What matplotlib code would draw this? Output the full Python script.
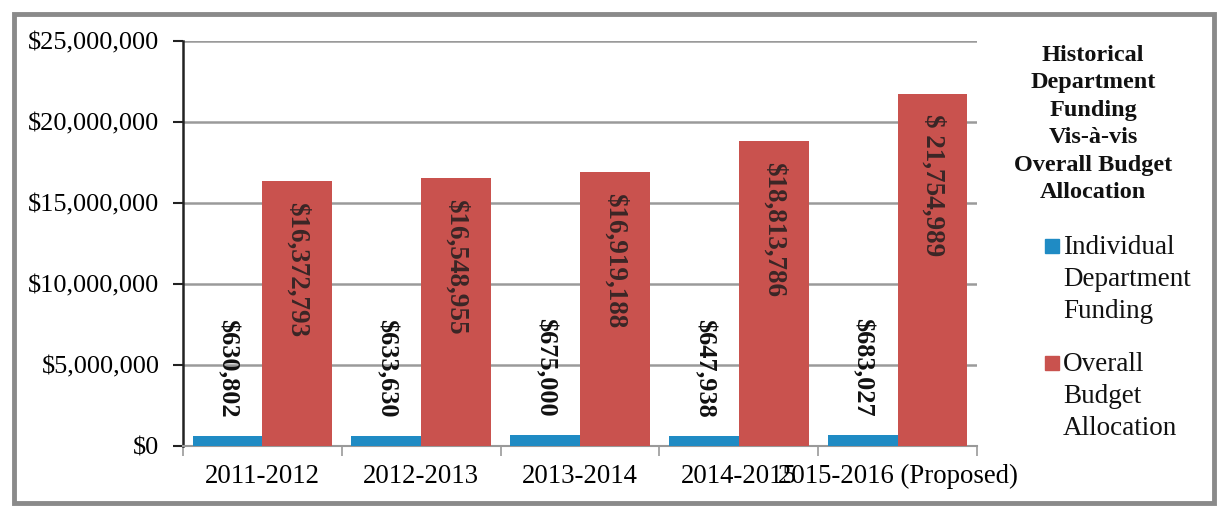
import matplotlib.pyplot as plt
from matplotlib.patches import Rectangle
from matplotlib.ticker import FuncFormatter
import numpy as np

# Funding per fiscal year
years = ["2011-2012", "2012-2013", "2013-2014", "2014-2015", "2015-2016 (Proposed)"]
dept_funding = [630802, 633630, 675000, 647938, 683027]
overall_budget = [16372793, 16548955, 16919188, 18813786, 21754989]
overall_labels = ["$16,372,793", "$16,548,955", "$16,919,188", "$18,813,786", "$ 21,754,989"]

blue = "#1f8bc4"
red = "#c9524e"

plt.rcParams['font.family'] = ['Liberation Serif', 'DejaVu Serif']

fig = plt.figure(figsize=(12.2, 5.08), dpi=100)
ax = fig.add_axes([183 / 1220, 1 - 446 / 508, 794 / 1220, 405 / 508])

x = np.arange(len(years))
w = 0.44
ax.bar(x - w / 2, dept_funding, w, color=blue, zorder=3)
ax.bar(x + w / 2, overall_budget, w, color=red, zorder=3)

# value labels, rotated to read top-down
for xi, v in zip(x, dept_funding):
    ax.annotate(f"${v:,}", (xi - w / 2, v), xytext=(0, 13), textcoords='offset points',
                rotation=-90, ha='center', va='bottom', fontsize=19, fontweight='bold',
                color='#111111', zorder=4)
for xi, v, lab in zip(x, overall_budget, overall_labels):
    ax.annotate(lab, (xi + w / 2, v), xytext=(0, -15), textcoords='offset points',
                rotation=-90, ha='center', va='top', fontsize=19.5, fontweight='bold',
                color='#3a2626', zorder=4)

ax.set_xlim(-0.5, len(years) - 0.5)
ax.set_ylim(0, 25000000)
ax.set_yticks(np.arange(0, 25000001, 5000000))
ax.yaxis.set_major_formatter(FuncFormatter(lambda v, p: f"${v:,.0f}"))
ax.set_xticks(x)
ax.set_xticklabels(years)
ax.set_xticks(np.arange(-0.5, len(years)), minor=True)
ax.tick_params(axis='x', which='major', length=0, labelsize=19.3, pad=13)
ax.tick_params(axis='x', which='minor', length=7, color='#999999', width=1.2)
ax.tick_params(axis='y', length=7, width=1.5, color='#222222', labelsize=19, pad=10)

ax.grid(axis='y', color='#9a9a9a', linewidth=1.8, zorder=0)
ax.set_axisbelow(True)
for s in ['top', 'right']:
    ax.spines[s].set_visible(False)
ax.spines['left'].set_color('#222222')
ax.spines['left'].set_linewidth(1.8)
ax.spines['bottom'].set_color('#999999')
ax.spines['bottom'].set_linewidth(1.5)

# title block and legend on the right
fig.text(1093 / 1220, 1 - 45 / 508,
         "Historical\nDepartment\nFunding\nVis-à-vis\nOverall Budget\nAllocation",
         ha='center', va='top', fontsize=17.5, fontweight='bold', linespacing=1.4,
         color='#111111')

entries = [("Individual\nDepartment\nFunding", blue, 239),
           ("Overall\nBudget\nAllocation", red, 356)]
for label, color, top in entries:
    fig.patches.append(Rectangle((1045 / 1220, 1 - (top + 14) / 508), 14 / 1220, 14 / 508,
                                 transform=fig.transFigure, color=color, figure=fig))
    fig.text(1063 / 1220, 1 - (top - 4) / 508, label, ha='left', va='top',
             fontsize=19.5, linespacing=1.36, color='#111111')

# outer border
fig.patches.append(Rectangle((14 / 1220, 5 / 508), 1200 / 1220, 489 / 508,
                             transform=fig.transFigure, fill=False,
                             edgecolor='#8a8a8a', linewidth=3.5, figure=fig))

fig.savefig("out.png", dpi=100)
